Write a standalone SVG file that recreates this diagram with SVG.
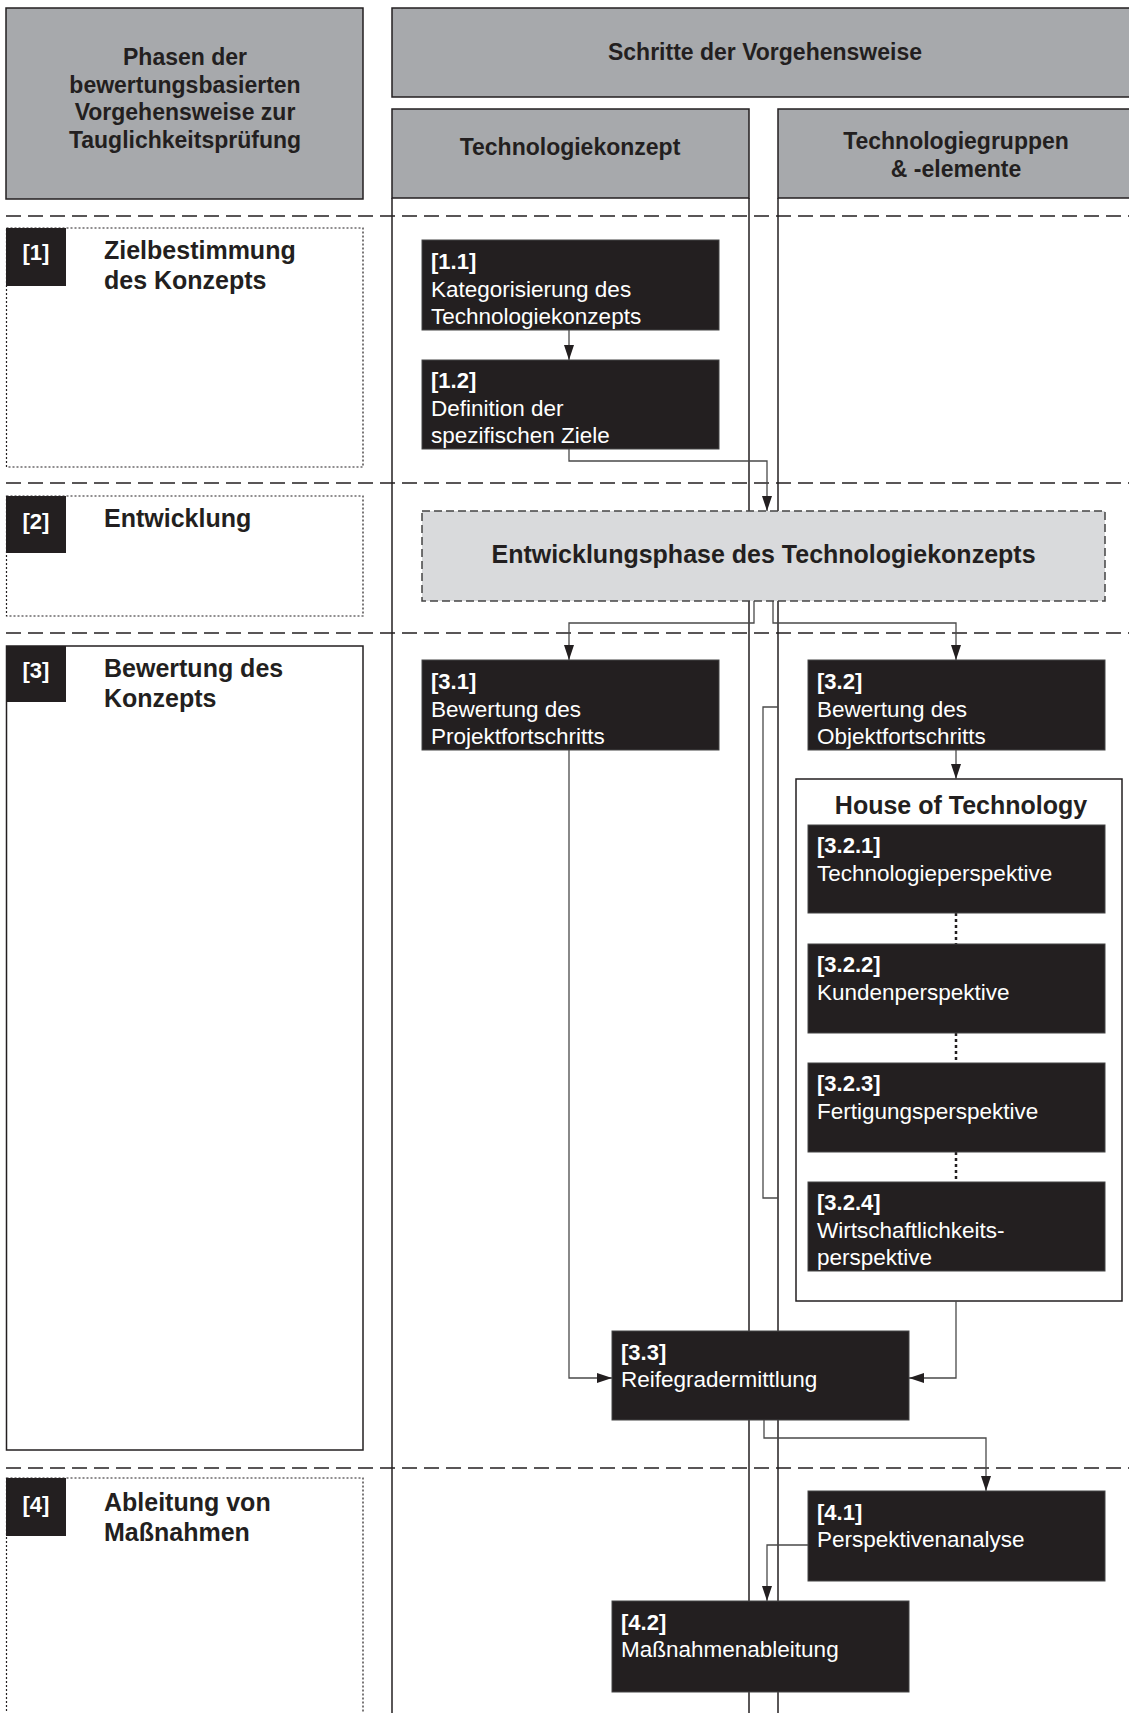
<svg xmlns="http://www.w3.org/2000/svg" width="1129" height="1713" viewBox="0 0 1129 1713">
  <style>
    text { font-family: "Liberation Sans", Arial, sans-serif; }
    .hdr { fill: #a7a9ac; stroke: #231f20; stroke-width: 1.5; }
    .hdrtxt { font-size: 23px; font-weight: bold; fill: #231f20; text-anchor: middle; }
    .col { stroke: #231f20; stroke-width: 1.5; fill: none; }
    .sep { stroke: #231f20; stroke-width: 1.5; stroke-dasharray: 15 7; fill: none; }
    .phase-dot { fill: none; stroke: #231f20; stroke-width: 1.2; stroke-dasharray: 2 2; }
    .phase-solid { fill: none; stroke: #231f20; stroke-width: 1.5; }
    .plabel { fill: #231f20; }
    .plabeltxt { font-size: 22px; font-weight: bold; fill: #ffffff; text-anchor: middle; }
    .ptitle { font-size: 25px; font-weight: bold; fill: #231f20; }
    .step { fill: #231f20; stroke: #444; stroke-width: 1; }
    .sid { font-size: 22px; font-weight: bold; fill: #ffffff; }
    .stxt { font-size: 22.5px; fill: #ffffff; }
    .dev { fill: #d9dadc; stroke: #444; stroke-width: 1.5; stroke-dasharray: 8 4; }
    .devtxt { font-size: 25px; font-weight: bold; fill: #231f20; text-anchor: middle; }
    .hot { fill: #ffffff; stroke: #231f20; stroke-width: 1.5; }
    .hottxt { font-size: 25px; font-weight: bold; fill: #231f20; text-anchor: middle; }
    .conn { fill: none; stroke: #4a4a4a; stroke-width: 1.3; }
    .arrow { marker-end: url(#ah); }
    .dotconn { fill: none; stroke: #231f20; stroke-width: 2.5; stroke-dasharray: 3 3; }
  </style>
  <defs>
    <marker id="ah" viewBox="0 0 15 10" refX="15" refY="5" markerWidth="15" markerHeight="10" markerUnits="userSpaceOnUse" orient="auto">
      <path d="M0,0 L15,5 L0,10 Z" fill="#231f20"/>
    </marker>
  </defs>

  <!-- header row -->
  <g id="hdr-phasen">
    <rect class="hdr" x="6" y="8" width="357" height="191"/>
    <text class="hdrtxt" x="185" y="65">Phasen der</text>
    <text class="hdrtxt" x="185" y="92.5">bewertungsbasierten</text>
    <text class="hdrtxt" x="185" y="120">Vorgehensweise zur</text>
    <text class="hdrtxt" x="185" y="147.5">Tauglichkeitsprüfung</text>
  </g>
  <g id="hdr-schritte">
    <rect class="hdr" x="392" y="8" width="760" height="89"/>
    <text class="hdrtxt" x="765" y="60">Schritte der Vorgehensweise</text>
  </g>
  <g id="hdr-konzept">
    <rect class="hdr" x="392" y="109" width="357" height="89"/>
    <text class="hdrtxt" x="570" y="155">Technologiekonzept</text>
  </g>
  <g id="hdr-gruppen">
    <rect class="hdr" x="778" y="109" width="380" height="89"/>
    <text class="hdrtxt" x="956" y="149">Technologiegruppen</text>
    <text class="hdrtxt" x="956" y="177">&amp; -elemente</text>
  </g>

  <!-- column boundaries -->
  <g id="columns">
    <line class="col" x1="392" y1="198" x2="392" y2="1713"/>
    <line class="col" x1="749" y1="198" x2="749" y2="1713"/>
    <line class="col" x1="778" y1="198" x2="778" y2="1713"/>
  </g>

  <!-- phase separators -->
  <g id="separators">
    <line class="sep" x1="6" y1="216" x2="1129" y2="216"/>
    <line class="sep" x1="6" y1="483" x2="1129" y2="483"/>
    <line class="sep" x1="6" y1="633" x2="1129" y2="633"/>
    <line class="sep" x1="6" y1="1468" x2="1129" y2="1468"/>
  </g>

  <!-- phases -->
  <g id="phase-1">
    <rect class="phase-dot" x="6.5" y="228" width="356.5" height="239"/>
    <rect class="plabel" x="6" y="228" width="60" height="58"/>
    <text class="plabeltxt" x="36" y="260">[1]</text>
    <text class="ptitle" x="104" y="259">Zielbestimmung</text>
    <text class="ptitle" x="104" y="289">des Konzepts</text>
  </g>
  <g id="phase-2">
    <rect class="phase-dot" x="6.5" y="496" width="356.5" height="120"/>
    <rect class="plabel" x="6" y="496" width="60" height="57"/>
    <text class="plabeltxt" x="36" y="529">[2]</text>
    <text class="ptitle" x="104" y="527">Entwicklung</text>
  </g>
  <g id="phase-3">
    <rect class="phase-solid" x="6.5" y="646" width="356.5" height="804"/>
    <rect class="plabel" x="6" y="646" width="60" height="56"/>
    <text class="plabeltxt" x="36" y="678">[3]</text>
    <text class="ptitle" x="104" y="677">Bewertung des</text>
    <text class="ptitle" x="104" y="707">Konzepts</text>
  </g>
  <g id="phase-4">
    <rect class="phase-dot" x="6.5" y="1478" width="356.5" height="260"/>
    <rect class="plabel" x="6" y="1478" width="60" height="58"/>
    <text class="plabeltxt" x="36" y="1512">[4]</text>
    <text class="ptitle" x="104" y="1511">Ableitung von</text>
    <text class="ptitle" x="104" y="1541">Maßnahmen</text>
  </g>

  <!-- container frame for the four perspectives (white fill, drawn under the links) -->
  <g id="house-of-technology">
    <rect class="hot" x="796" y="779" width="326" height="522"/>
    <text class="hottxt" x="961" y="814">House of Technology</text>
  </g>

  <!-- connectors -->
  <g id="connectors">
    <path class="conn arrow" d="M569,330 V360"/>
    <path class="conn arrow" d="M569,449 V461 H767 V511"/>
    <path class="conn arrow" d="M754,601 V623 H569 V660"/>
    <path class="conn arrow" d="M773,601 V623 H956 V660"/>
    <path class="conn arrow" d="M956,750 V779"/>
    <path class="conn arrow" d="M956,1301 V1378 H909"/>
    <path class="conn arrow" d="M569,750 V1378 H612"/>
    <path class="conn arrow" d="M764,1420 V1438 H986 V1491"/>
    <path class="conn arrow" d="M808,1545 H767 V1601"/>
    <path class="conn" d="M778,707 H763 V1198 H778"/>
    <path class="dotconn" d="M956,913 V944"/>
    <path class="dotconn" d="M956,1033 V1063"/>
    <path class="dotconn" d="M956,1152 V1182"/>
  </g>

  <!-- steps -->
  <g id="step-1-1">
    <rect class="step" x="422" y="240" width="297" height="90"/>
    <text class="sid" x="431" y="269">[1.1]</text>
    <text class="stxt" x="431" y="297">Kategorisierung des</text>
    <text class="stxt" x="431" y="324">Technologiekonzepts</text>
  </g>
  <g id="step-1-2">
    <rect class="step" x="422" y="360" width="297" height="89"/>
    <text class="sid" x="431" y="388">[1.2]</text>
    <text class="stxt" x="431" y="416">Definition der</text>
    <text class="stxt" x="431" y="443">spezifischen Ziele</text>
  </g>
  <g id="step-dev">
    <rect class="dev" x="422" y="511" width="683" height="90"/>
    <text class="devtxt" x="763.5" y="563">Entwicklungsphase des Technologiekonzepts</text>
  </g>
  <g id="step-3-1">
    <rect class="step" x="422" y="660" width="297" height="90"/>
    <text class="sid" x="431" y="689">[3.1]</text>
    <text class="stxt" x="431" y="717">Bewertung des</text>
    <text class="stxt" x="431" y="744">Projektfortschritts</text>
  </g>
  <g id="step-3-2">
    <rect class="step" x="808" y="660" width="297" height="90"/>
    <text class="sid" x="817" y="689">[3.2]</text>
    <text class="stxt" x="817" y="717">Bewertung des</text>
    <text class="stxt" x="817" y="744">Objektfortschritts</text>
  </g>
  <g id="step-3-2-1">
    <rect class="step" x="808" y="825" width="297" height="88"/>
    <text class="sid" x="817" y="853">[3.2.1]</text>
    <text class="stxt" x="817" y="881">Technologieperspektive</text>
  </g>
  <g id="step-3-2-2">
    <rect class="step" x="808" y="944" width="297" height="89"/>
    <text class="sid" x="817" y="972">[3.2.2]</text>
    <text class="stxt" x="817" y="1000">Kundenperspektive</text>
  </g>
  <g id="step-3-2-3">
    <rect class="step" x="808" y="1063" width="297" height="89"/>
    <text class="sid" x="817" y="1091">[3.2.3]</text>
    <text class="stxt" x="817" y="1119">Fertigungsperspektive</text>
  </g>
  <g id="step-3-2-4">
    <rect class="step" x="808" y="1182" width="297" height="89"/>
    <text class="sid" x="817" y="1210">[3.2.4]</text>
    <text class="stxt" x="817" y="1238">Wirtschaftlichkeits-</text>
    <text class="stxt" x="817" y="1265">perspektive</text>
  </g>
  <g id="step-3-3">
    <rect class="step" x="612" y="1331" width="297" height="89"/>
    <text class="sid" x="621" y="1360">[3.3]</text>
    <text class="stxt" x="621" y="1387">Reifegradermittlung</text>
  </g>
  <g id="step-4-1">
    <rect class="step" x="808" y="1491" width="297" height="90"/>
    <text class="sid" x="817" y="1520">[4.1]</text>
    <text class="stxt" x="817" y="1547">Perspektivenanalyse</text>
  </g>
  <g id="step-4-2">
    <rect class="step" x="612" y="1601" width="297" height="91"/>
    <text class="sid" x="621" y="1630">[4.2]</text>
    <text class="stxt" x="621" y="1657">Maßnahmenableitung</text>
  </g>
</svg>
